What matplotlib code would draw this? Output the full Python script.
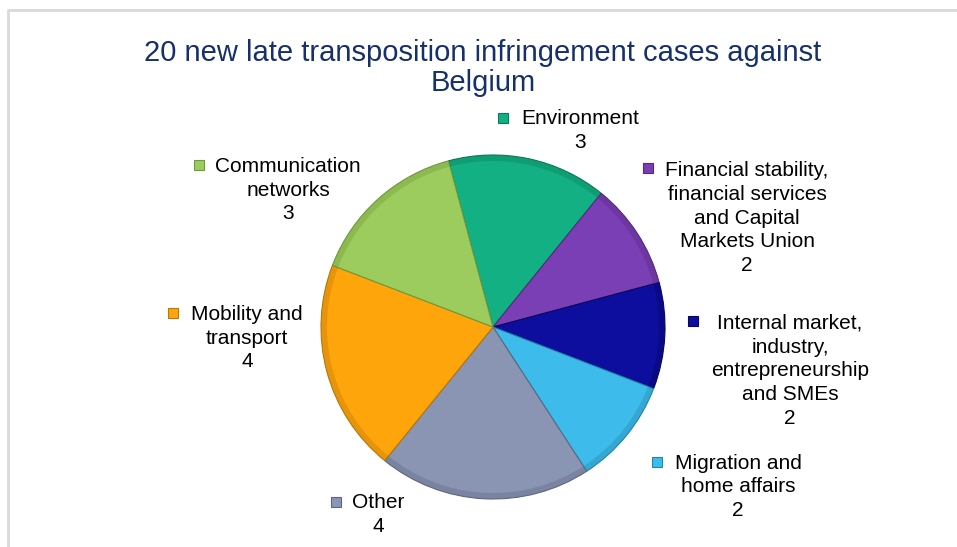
import matplotlib
matplotlib.use("Agg")
import matplotlib.pyplot as plt
from matplotlib.patches import Rectangle

plt.rcParams['font.family'] = ['Liberation Sans', 'DejaVu Sans']

# data (clockwise from the top)
categories = [
    "Environment",
    "Financial stability,\nfinancial services\nand Capital\nMarkets Union",
    "Internal market,\nindustry,\nentrepreneurship\nand SMEs",
    "Migration and\nhome affairs",
    "Other",
    "Mobility and\ntransport",
    "Communication\nnetworks",
]
cases = [3, 2, 2, 2, 4, 4, 3]
colors = ["#12B083", "#7A3FB4", "#0D0D9E", "#3DBBEA", "#8A95B3", "#FFA50C", "#9DCC5E"]
edge_colors = ["#0B7A5A", "#55287F", "#07075E", "#2585A8", "#5E6781", "#B87708", "#6E9A3A"]

title = "20 new late transposition infringement cases against\nBelgium"

# label layout in pixels (top-left origin): marker x, text centre x, first line y
label_pos = [
    (503, 580, 118),
    (648, 747, 168),
    (693, 790, 321),
    (657, 738, 462),
    (336, 378, 502),
    (173, 247, 313),
    (199, 288, 165),
]

W, H = 957, 547
fig = plt.figure(figsize=(W / 100, H / 100), dpi=100)
ax = fig.add_axes([0, 0, 1, 1])

center = (493, H - 327)
wedges, _ = ax.pie(cases, colors=colors, startangle=105, counterclock=False,
                   center=center, radius=172,
                   wedgeprops=dict(linewidth=0.8))
for w, ec in zip(wedges, edge_colors):
    w.set_edgecolor(ec)

# darker rim to hint at the bevel of the original
ax.pie(cases, colors=edge_colors, startangle=105, counterclock=False,
       center=center, radius=172,
       wedgeprops=dict(width=6, linewidth=0, alpha=0.35))

ax.set_xlim(0, W)
ax.set_ylim(0, H)
ax.set_aspect('auto')
ax.axis('off')

# chart frame
ax.plot([8, 8, W], [0, H - 10, H - 10], color="#D9D9D9", lw=2, clip_on=False)

line_h = 25
for name, val, col, ec, (mx, cx, y0) in zip(categories, cases, colors, edge_colors, label_pos):
    text = f"{name}\n{val}"
    n = text.count("\n") + 1
    cy = y0 + (n - 1) * line_h / 2
    ax.text(cx, H - cy, text, ha='center', va='center', fontsize=15,
            linespacing=1.32, color="black")
    ax.add_patch(Rectangle((mx - 5, H - y0 - 5), 10, 10, facecolor=col,
                           edgecolor=ec, lw=0.8))

fig.text(483 / W, 1 - 68 / H, title, ha='center', va='center', fontsize=21,
         color="#17306B", linespacing=1.12)

fig.savefig("out.png", dpi=100)
